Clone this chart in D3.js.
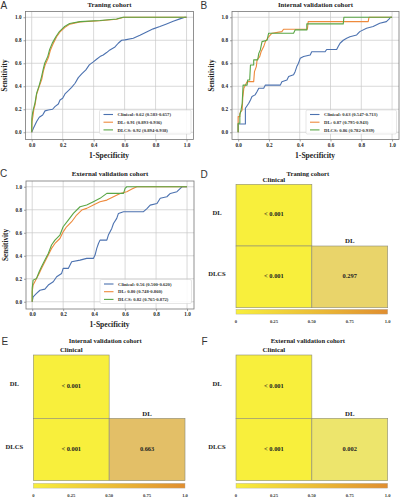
<!DOCTYPE html>
<html><head><meta charset="utf-8">
<script src="https://cdn.jsdelivr.net/npm/d3@7"></script>
<style>body{margin:0;background:#fff} svg{display:block}</style>
</head><body>
<svg id="c" width="401" height="500"></svg>
<script>
// ---------- DATA ----------
const rocTicks = [0, 0.2, 0.4, 0.6, 0.8, 1.0];
const seriesNames = ["Clinical", "DL", "DLCS"];
const seriesColors = ["#4C72B0", "#EE8A3C", "#5AA646"];

// Panel A: Traning cohort  [fpr, tpr]
const aClinical = [[0,0],[0.011,0.035],[0.032,0.093],[0.049,0.13],[0.071,0.15],[0.086,0.186],[0.108,0.194],[0.135,0.2],[0.15,0.223],[0.172,0.246],[0.183,0.281],[0.2,0.296],[0.215,0.333],[0.237,0.362],[0.258,0.391],[0.28,0.426],[0.301,0.475],[0.323,0.507],[0.35,0.542],[0.372,0.586],[0.398,0.612],[0.419,0.635],[0.441,0.658],[0.462,0.672],[0.484,0.693],[0.505,0.716],[0.538,0.742],[0.559,0.774],[0.581,0.8],[0.602,0.803],[0.656,0.817],[0.699,0.843],[0.742,0.872],[0.785,0.899],[0.828,0.919],[0.871,0.942],[0.914,0.965],[0.957,0.986],[0.99,1.0],[1,1]];
const aDL = [[0,0],[0.002,0.09],[0.008,0.14],[0.014,0.2],[0.022,0.24],[0.032,0.33],[0.049,0.4],[0.065,0.46],[0.075,0.53],[0.088,0.59],[0.108,0.65],[0.12,0.71],[0.137,0.765],[0.161,0.83],[0.183,0.872],[0.215,0.912],[0.247,0.94],[0.312,0.96],[0.441,0.97],[0.548,0.983],[0.595,1.0],[1,1]];
const aDLCS = [[0,0],[0.001,0.12],[0.006,0.17],[0.011,0.2],[0.022,0.26],[0.032,0.34],[0.049,0.41],[0.063,0.48],[0.073,0.54],[0.084,0.6],[0.104,0.66],[0.116,0.72],[0.133,0.775],[0.158,0.835],[0.18,0.878],[0.21,0.917],[0.245,0.945],[0.312,0.962],[0.441,0.972],[0.548,0.985],[0.59,1.0],[1,1]];

// Panel B: Internal validation cohort
const bClinical = [[0,0],[0,0.072],[0.047,0.072],[0.047,0.209],[0.058,0.23],[0.069,0.252],[0.08,0.281],[0.09,0.31],[0.11,0.325],[0.123,0.354],[0.134,0.383],[0.166,0.383],[0.177,0.41],[0.274,0.41],[0.284,0.44],[0.317,0.455],[0.328,0.484],[0.36,0.5],[0.37,0.527],[0.381,0.571],[0.392,0.6],[0.403,0.643],[0.425,0.658],[0.468,0.672],[0.478,0.7],[0.565,0.7],[0.575,0.72],[0.64,0.72],[0.65,0.745],[0.662,0.774],[0.683,0.8],[0.705,0.817],[0.726,0.83],[0.77,0.846],[0.79,0.875],[0.834,0.904],[0.877,0.919],[0.92,0.948],[0.963,0.962],[0.98,0.983],[0.99,1.0],[1,1]];
const bDL = [[0,0],[0,0.136],[0.011,0.136],[0.011,0.165],[0.026,0.194],[0.03,0.3],[0.037,0.383],[0.047,0.41],[0.058,0.44],[0.101,0.44],[0.106,0.527],[0.118,0.571],[0.123,0.629],[0.14,0.658],[0.149,0.7],[0.166,0.745],[0.177,0.788],[0.198,0.83],[0.22,0.861],[0.284,0.875],[0.295,0.896],[0.45,0.896],[0.455,0.962],[0.845,0.962],[0.85,1.0],[1,1]];
const bDLCS = [[0,0],[0,0.078],[0.011,0.078],[0.011,0.15],[0.019,0.194],[0.026,0.25],[0.032,0.41],[0.058,0.41],[0.062,0.455],[0.075,0.455],[0.08,0.585],[0.101,0.585],[0.101,0.629],[0.127,0.629],[0.134,0.686],[0.144,0.716],[0.155,0.788],[0.188,0.8],[0.198,0.861],[0.36,0.861],[0.37,0.89],[0.446,0.89],[0.446,0.942],[0.683,0.942],[0.687,1.0],[1,1]];

// Panel C: External validation cohort
const cClinical = [[0,0],[0.006,0.043],[0.028,0.072],[0.05,0.1],[0.082,0.11],[0.104,0.145],[0.136,0.174],[0.158,0.217],[0.19,0.246],[0.2,0.29],[0.233,0.29],[0.255,0.348],[0.309,0.362],[0.352,0.377],[0.395,0.377],[0.406,0.406],[0.417,0.464],[0.428,0.507],[0.438,0.536],[0.482,0.536],[0.492,0.58],[0.514,0.638],[0.525,0.68],[0.546,0.725],[0.557,0.768],[0.59,0.783],[0.719,0.783],[0.741,0.81],[0.762,0.84],[0.806,0.855],[0.827,0.9],[0.87,0.913],[0.892,0.942],[0.935,0.957],[0.957,0.986],[0.968,1.0],[1,1]];
const cDL = [[0,0],[0,0.087],[0.006,0.145],[0.017,0.174],[0.028,0.203],[0.045,0.246],[0.06,0.29],[0.082,0.348],[0.104,0.406],[0.125,0.464],[0.147,0.507],[0.179,0.55],[0.2,0.608],[0.222,0.652],[0.255,0.696],[0.287,0.754],[0.32,0.797],[0.352,0.812],[0.395,0.841],[0.438,0.87],[0.482,0.884],[0.525,0.913],[0.568,0.942],[0.611,0.957],[0.644,0.98],[0.676,1.0],[1,1]];
const cDLCS = [[0,0],[0,0.116],[0.006,0.188],[0.028,0.203],[0.045,0.261],[0.06,0.304],[0.082,0.362],[0.104,0.42],[0.125,0.493],[0.147,0.536],[0.179,0.58],[0.2,0.652],[0.233,0.71],[0.266,0.768],[0.309,0.826],[0.352,0.841],[0.395,0.87],[0.438,0.899],[0.482,0.942],[0.59,0.942],[0.6,0.986],[0.611,1.0],[1,1]];

const aLegend = ["Clinical: 0.62 (0.583-0.657)", "DL: 0.91 (0.893-0.936)", "DLCS: 0.92 (0.894-0.938)"];
const bLegend = ["Clinical: 0.63 (0.547-0.713)", "DL: 0.87 (0.795-0.943)", "DLCS: 0.86 (0.782-0.939)"];
const cLegend = ["Clinical: 0.56 (0.500-0.620)", "DL: 0.80 (0.748-0.860)", "DLCS: 0.82 (0.765-0.872)"];

// Heatmaps (pairwise DeLong p-values)
const hmCols = ["Clinical", "DL"];
const hmRows = ["DL", "DLCS"];
const hmCells = [["DL","Clinical"],["DLCS","Clinical"],["DLCS","DL"]];
const dValues = [0.0005, 0.0005, 0.297];
const dLabels = ["< 0.001", "< 0.001", "0.297"];
const eValues = [0.0005, 0.0005, 0.663];
const eLabels = ["< 0.001", "< 0.001", "0.663"];
const fValues = [0.0005, 0.0005, 0.002];
const fLabels = ["< 0.001", "< 0.001", "0.002"];
const cbTicks = [0, 0.25, 0.5, 0.75, 1.0];
const cbTickLabels = ["0", "0.25", "0.50", "0.75", "1.0"];

// ---------- DRAW ----------
const svg = d3.select("#c");
const SERIF = "'Liberation Serif','Times New Roman',serif";
const SANS = "'Liberation Sans',Arial,sans-serif";

function letter(x, y, t) {
  svg.append("text").attr("x", x).attr("y", y).text(t)
    .attr("font-family", SANS).attr("font-size", 10).attr("fill", "#333");
}

function roc(cfg) {
  const {x0, y0, x1, y1, title, series, legend} = cfg;
  const x = d3.scaleLinear().domain([-0.04, 1.045]).range([x0, x1]);
  const y = d3.scaleLinear().domain([-0.063, 1.05]).range([y1, y0]);
  const g = svg.append("g");
  // grid
  g.selectAll(".gx").data(rocTicks).join("line")
    .attr("x1", d => x(d)).attr("x2", d => x(d)).attr("y1", y0).attr("y2", y1)
    .attr("stroke", "#c9c9c9").attr("stroke-width", 0.7);
  g.selectAll(".gy").data(rocTicks).join("line").attr("class","gy")
    .attr("y1", d => y(d)).attr("y2", d => y(d)).attr("x1", x0).attr("x2", x1)
    .attr("stroke", "#c9c9c9").attr("stroke-width", 0.7);
  // axes
  const ax = g.append("g").attr("transform", `translate(0,${y1})`)
    .call(d3.axisBottom(x).tickValues(rocTicks).tickFormat(d3.format(".1f")).tickSize(2).tickPadding(1.5));
  const ay = g.append("g").attr("transform", `translate(${x0},0)`)
    .call(d3.axisLeft(y).tickValues(rocTicks).tickFormat(d3.format(".1f")).tickSize(2).tickPadding(2));
  [ax, ay].forEach(a => {
    a.select(".domain").remove();
    a.selectAll("line").attr("stroke", "#666").attr("stroke-width", 0.6);
    a.selectAll("text").attr("font-family", SERIF).attr("font-size", 5.2)
      .attr("font-weight", "bold").attr("fill", "#222");
  });
  // frame
  g.append("rect").attr("x", x0).attr("y", y0).attr("width", x1 - x0).attr("height", y1 - y0)
    .attr("fill", "none").attr("stroke", "#777").attr("stroke-width", 0.8);
  // lines
  const line = d3.line().x(d => x(d[0])).y(d => y(d[1]));
  series.forEach((s, i) => {
    g.append("path").datum(s).attr("d", line).attr("fill", "none")
      .attr("stroke", seriesColors[i]).attr("stroke-width", 1.1).attr("stroke-linejoin", "round");
  });
  // labels
  g.append("text").attr("x", (x0 + x1) / 2).attr("y", y0 - 5).attr("text-anchor", "middle")
    .attr("font-family", SERIF).attr("font-weight", "bold").attr("font-size", 6.8).attr("fill", "#222").text(title);
  g.append("text").attr("x", x(0.5)).attr("y", y1 + 18).attr("text-anchor", "middle")
    .attr("font-family", SERIF).attr("font-weight", "bold").attr("font-size", 7.6).attr("fill", "#222").text("1-Specificity");
  g.append("text").attr("transform", `translate(${x0 - 18.5},${(y0 + y1) / 2}) rotate(-90)`)
    .attr("text-anchor", "middle").attr("font-family", SERIF).attr("font-weight", "bold")
    .attr("font-size", 7.2).attr("fill", "#222").text("Sensitivity");
  // legend
  const lx = x0 + 74, ly = y1 - 29.5, lw = x1 - 2.5 - lx, lh = 24;
  g.append("rect").attr("x", lx).attr("y", ly).attr("width", lw).attr("height", lh)
    .attr("rx", 1.5).attr("fill", "#fff").attr("fill-opacity", 0.85).attr("stroke", "#ccc").attr("stroke-width", 0.5);
  legend.forEach((t, i) => {
    const yy = ly + 4.5 + i * 7.7;
    g.append("line").attr("x1", lx + 4).attr("x2", lx + 13.5).attr("y1", yy).attr("y2", yy)
      .attr("stroke", seriesColors[i]).attr("stroke-width", 1.1);
    g.append("text").attr("x", lx + 18).attr("y", yy + 1.6).attr("font-family", SERIF)
      .attr("font-size", 4.7).attr("font-weight", "bold").attr("fill", "#333").text(t);
  });
}

const barColor = d3.scaleLinear().domain([0, 1]).range(["#f8ef3c", "#e08e30"]);
function cellFill(v, col) {
  return col === "DL" ? d3.interpolateRgb(barColor(v), "#dcd6b4")(0.4) : barColor(v);
}

function heat(cfg, idx) {
  const {left, right, top, mid, bottom, title, titleY, values, labels, cbY} = cfg;
  const x = d3.scaleLinear().domain([0, 1]).range([left, right]);
  const colX = {Clinical: [0, 0.5], DL: [0.5, 1]};
  const rowY = {DL: [top, mid], DLCS: [mid, bottom]};
  const g = svg.append("g");
  g.append("text").attr("x", (left + right) / 2 - 4).attr("y", titleY).attr("text-anchor", "middle")
    .attr("font-family", SERIF).attr("font-weight", "bold").attr("font-size", 6.6).attr("fill", "#222").text(title);
  hmCells.forEach((rc, i) => {
    const [r, c] = rc;
    const xs = colX[c].map(x), ys = rowY[r];
    g.append("rect").attr("x", xs[0]).attr("y", ys[0]).attr("width", xs[1] - xs[0]).attr("height", ys[1] - ys[0])
      .attr("fill", cellFill(values[i], c)).attr("stroke", "#8a8a7a").attr("stroke-width", 0.6);
    g.append("text").attr("x", (xs[0] + xs[1]) / 2).attr("y", (ys[0] + ys[1]) / 2 + 1)
      .attr("text-anchor", "middle").attr("font-family", SERIF).attr("font-weight", "bold")
      .attr("font-size", 6.4).attr("fill", "#222").text(labels[i]);
  });
  // column headers
  hmCols.forEach(c => {
    const firstRow = c === "Clinical" ? "DL" : "DLCS";
    g.append("text").attr("x", (x(colX[c][0]) + x(colX[c][1])) / 2).attr("y", rowY[firstRow][0] - 2.6)
      .attr("text-anchor", "middle").attr("font-family", SERIF).attr("font-weight", "bold")
      .attr("font-size", 6.8).attr("fill", "#222").text(c);
  });
  // row headers
  hmRows.forEach(r => {
    g.append("text").attr("x", left - 19).attr("y", (rowY[r][0] + rowY[r][1]) / 2 - 0.5)
      .attr("text-anchor", "middle").attr("font-family", SERIF).attr("font-weight", "bold")
      .attr("font-size", 6.6).attr("fill", "#222").text(r);
  });
  // colorbar
  const gid = "cb" + idx;
  const grad = svg.append("defs").append("linearGradient").attr("id", gid);
  cbTicks.forEach(t => grad.append("stop").attr("offset", t).attr("stop-color", barColor(t)));
  g.append("rect").attr("x", left).attr("y", cbY).attr("width", right - left).attr("height", 4.8)
    .attr("fill", `url(#${gid})`).attr("stroke", "#aaa").attr("stroke-width", 0.4);
  g.selectAll(".cbt").data(cbTicks).join("text")
    .attr("x", d => x(d)).attr("y", cbY + 14).attr("text-anchor", "middle")
    .attr("font-family", SERIF).attr("font-weight", "bold").attr("font-size", 4.6).attr("fill", "#333")
    .text((d, i) => cbTickLabels[i]);
}

letter(0.5, 9.3, "A"); letter(200.5, 9.3, "B"); letter(0, 177, "C");
letter(200.5, 177.5, "D"); letter(1.5, 345, "E"); letter(201.5, 345, "F");

roc({x0: 25.5, y0: 11.5, x1: 193.5, y1: 139.5, title: "Traning cohort", series: [aClinical, aDL, aDLCS], legend: aLegend});
roc({x0: 232, y0: 11.5, x1: 399, y1: 139.5, title: "Internal validation cohort", series: [bClinical, bDL, bDLCS], legend: bLegend});
roc({x0: 26, y0: 181, x1: 194, y1: 309, title: "External validation cohort", series: [cClinical, cDL, cDLCS], legend: cLegend});

heat({left: 236, right: 387.7, top: 184.3, mid: 246, bottom: 307.7, title: "Traning cohort", titleY: 175.6, values: dValues, labels: dLabels, cbY: 309.3}, 0);
heat({left: 33.3, right: 185, top: 355, mid: 418.3, bottom: 480.7, title: "Internal validation cohort", titleY: 343.3, values: eValues, labels: eLabels, cbY: 483.3}, 1);
heat({left: 236, right: 387.7, top: 355, mid: 418.3, bottom: 480.7, title: "External validation cohort", titleY: 343.3, values: fValues, labels: fLabels, cbY: 483.3}, 2);
</script>
</body></html>
